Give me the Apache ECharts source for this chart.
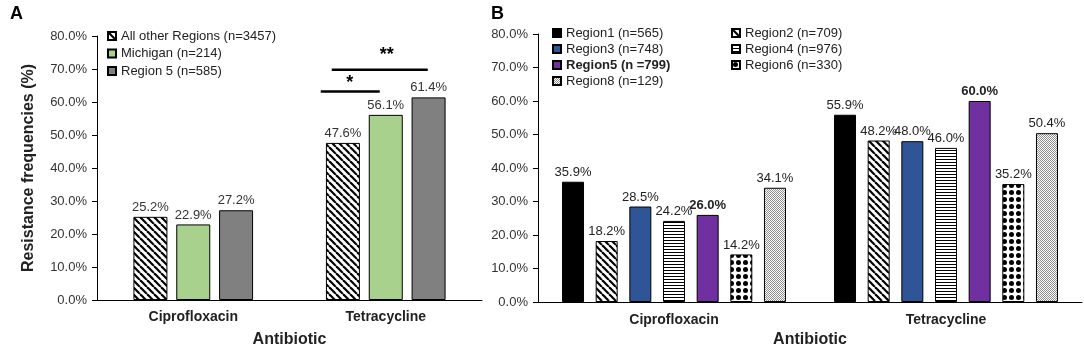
<!DOCTYPE html>
<html>
<head>
<meta charset="utf-8">
<script src="https://cdn.jsdelivr.net/npm/echarts@6/dist/echarts.min.js"></script>
<style>
  html, body { margin: 0; padding: 0; background: #fff; }
  #main { width: 1084px; height: 348px; }
</style>
</head>
<body>
<div id="main"></div>
<script>
// data
var categories = ['Ciprofloxacin', 'Tetracycline'];

// panel A
var namesA = ['All other Regions (n=3457)', 'Michigan (n=214)', 'Region 5 (n=585)'];
var otherRegions = [25.2, 47.6];
var michigan = [22.9, 56.1];
var region5A = [27.2, 61.4];
var sigLevels = [63.2, 69.8];   // '*' and '**' bars, in %

// panel B
var namesB = ['Region1 (n=565)', 'Region2 (n=709)', 'Region3 (n=748)', 'Region4 (n=976)',
              'Region5 (n =799)', 'Region6 (n=330)', 'Region8 (n=129)'];
var region1 = [35.9, 55.9];
var region2 = [18.2, 48.2];
var region3 = [28.5, 48.0];
var region4 = [24.2, 46.0];
var region5 = [26.0, 60.0];
var region6 = [14.2, 35.2];
var region8 = [34.1, 50.4];

var yMin = 0, yMax = 80, yStep = 10;

var FONT = 'Liberation Sans, Arial, sans-serif';

// pattern tiles
function tile(w, h, draw) {
  var c = document.createElement('canvas');
  c.width = w; c.height = h;
  var ctx = c.getContext('2d');
  ctx.fillStyle = '#fff';
  ctx.fillRect(0, 0, w, h);
  draw(ctx);
  return { image: c, repeat: 'repeat' };
}
var hatch = function () {
  return tile(7, 7, function (ctx) {
    ctx.strokeStyle = '#000';
    ctx.lineWidth = 2.2;
    [-7, 0, 7].forEach(function (o) {
      ctx.beginPath(); ctx.moveTo(o, 0); ctx.lineTo(o + 7, 7); ctx.stroke();
    });
  });
};
var hlines = tile(4, 3, function (ctx) {
  ctx.fillStyle = '#000'; ctx.fillRect(0, 0, 4, 1);
});
var dots = tile(7, 7, function (ctx) {
  ctx.fillStyle = '#000';
  ctx.beginPath(); ctx.arc(3.5, 3.5, 2.5, 0, Math.PI * 2); ctx.fill();
});
var fine = tile(2, 2, function (ctx) {
  ctx.fillStyle = '#8c8c8c';
  ctx.fillRect(0, 0, 1, 1); ctx.fillRect(1, 1, 1, 1);
});

function pct(p) { return p.value.toFixed(1) + '%'; }

function barA(name, data, fill) {
  return {
    name: name, type: 'bar', xAxisIndex: 0, yAxisIndex: 0,
    data: data, barWidth: 34, barGap: '26%',
    itemStyle: { color: fill, borderColor: '#000', borderWidth: 1 },
    label: { show: true, position: 'top', distance: 3, formatter: pct,
             fontFamily: FONT, fontSize: 13, color: '#333' }
  };
}
function barB(name, data, fill, bold) {
  return {
    name: name, type: 'bar', xAxisIndex: 1, yAxisIndex: 1,
    data: data, barWidth: 22, barGap: '53%',
    itemStyle: { color: fill, borderColor: '#000', borderWidth: 1 },
    label: { show: true, position: 'top', distance: 3, formatter: pct,
             fontFamily: FONT, fontSize: 13, color: '#222',
             fontWeight: bold ? 'bold' : 'normal' }
  };
}

function yAxis(grid, name) {
  return {
    type: 'value', gridIndex: grid, min: yMin, max: yMax, interval: yStep,
    name: name, nameLocation: 'middle', nameGap: 60,
    nameTextStyle: { fontFamily: FONT, fontSize: 16, fontWeight: 'bold', color: '#222' },
    axisLine: { show: true, lineStyle: { color: '#000', width: 1 } },
    axisTick: { show: true, length: 5, lineStyle: { color: '#000' } },
    axisLabel: { formatter: function (v) { return v.toFixed(1) + '%'; },
                 fontFamily: FONT, fontSize: 13, color: '#333', margin: 10 },
    splitLine: { show: false }
  };
}
function xAxis(grid, gap, margin) {
  return {
    type: 'category', gridIndex: grid, data: categories,
    name: 'Antibiotic', nameLocation: 'middle', nameGap: gap,
    nameTextStyle: { fontFamily: FONT, fontSize: 16, fontWeight: 'bold', color: '#222' },
    axisLine: { lineStyle: { color: '#000', width: 1 } },
    axisTick: { show: false },
    axisLabel: { fontFamily: FONT, fontSize: 14, fontWeight: 'bold', color: '#222', margin: margin }
  };
}

var legendText = { fontFamily: FONT, fontSize: 13, color: '#222', lineHeight: 14 };

var option = {
  animation: false,
  backgroundColor: '#fff',
  grid: [
    { left: 97, top: 36, width: 385, height: 264, outerBoundsMode: 'none' },
    { left: 538, top: 34, width: 544, height: 268, outerBoundsMode: 'none' }
  ],
  xAxis: [xAxis(0, 32, 10), xAxis(1, 24, 11)],
  yAxis: [yAxis(0, 'Resistance frequencies (%)'), yAxis(1, '')],
  legend: [
    { data: namesA, orient: 'vertical', left: 102, top: 24, itemWidth: 8, itemHeight: 8,
      itemGap: 3.5, icon: 'rect', textStyle: legendText },
    { data: [namesB[0], namesB[2], { name: namesB[4], textStyle: { fontWeight: 'bold' } }, namesB[6]],
      orient: 'vertical', left: 547, top: 21, itemWidth: 8, itemHeight: 8,
      itemGap: 2, icon: 'rect', textStyle: legendText },
    { data: [namesB[1], namesB[3], namesB[5]],
      orient: 'vertical', left: 726, top: 21, itemWidth: 8, itemHeight: 8,
      itemGap: 2, icon: 'rect', textStyle: legendText }
  ],
  graphic: [
    { type: 'text', left: 10, top: 5, style: { text: 'A', font: 'bold 18px ' + FONT, fill: '#000' } },
    { type: 'text', left: 491, top: 5, style: { text: 'B', font: 'bold 18px ' + FONT, fill: '#000' } }
  ],
  series: [
    barA(namesA[0], otherRegions, hatch()),
    barA(namesA[1], michigan, '#a9d18e'),
    barA(namesA[2], region5A, '#808080'),
    barB(namesB[0], region1, '#000000'),
    barB(namesB[1], region2, hatch()),
    barB(namesB[2], region3, '#2f5597'),
    barB(namesB[3], region4, hlines),
    barB(namesB[4], region5, '#7030a0', true),
    barB(namesB[5], region6, dots),
    barB(namesB[6], region8, fine)
  ]
};

var chart = echarts.init(document.getElementById('main'));
chart.setOption(option);

// significance bars over Tetracycline in panel A
var p1 = chart.convertToPixel({ gridIndex: 0 }, [categories[1], sigLevels[0]]);
var p2 = chart.convertToPixel({ gridIndex: 0 }, [categories[1], sigLevels[1]]);
var cx = p1[0];
chart.setOption({
  graphic: option.graphic.concat([
    { type: 'line', shape: { x1: cx - 65, y1: p1[1], x2: cx - 6, y2: p1[1] },
      style: { stroke: '#000', lineWidth: 2.5 } },
    { type: 'text', x: cx - 36, y: p1[1] - 8,
      style: { text: '*', font: 'bold 18px ' + FONT, fill: '#000', align: 'center', verticalAlign: 'middle' } },
    { type: 'line', shape: { x1: cx - 54, y1: p2[1], x2: cx + 42, y2: p2[1] },
      style: { stroke: '#000', lineWidth: 2.5 } },
    { type: 'text', x: cx + 1, y: p2[1] - 15,
      style: { text: '**', font: 'bold 18px ' + FONT, fill: '#000', align: 'center', verticalAlign: 'middle' } }
  ])
});
</script>
</body>
</html>
